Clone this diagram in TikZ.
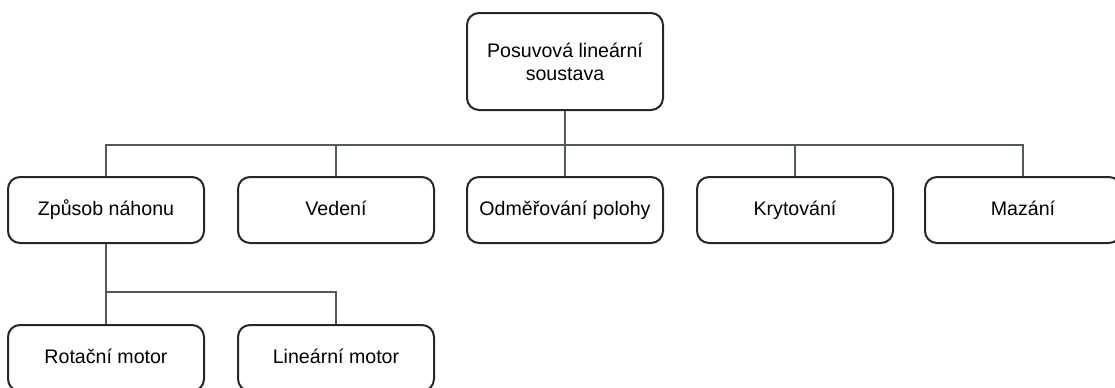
\documentclass[tikz,border=0pt]{standalone}
\usepackage{fontspec}
\setmainfont{Liberation Sans}
\definecolor{boxline}{RGB}{35,40,40}
\definecolor{treeline}{RGB}{80,90,90}

\begin{document}
\begin{tikzpicture}[x=0.5pt,y=-0.5pt,
  part/.style={draw=boxline, line width=1pt, rounded corners=6pt, fill=white,
    minimum width=98pt, minimum height=33pt, inner sep=1pt, align=center,
    font=\fontsize{9.8}{11.5}\selectfont},
  leaf/.style={part, text height=7pt, text depth=2pt},
  link/.style={draw=treeline, line width=1.3pt}]
\useasboundingbox (0,0) rectangle (1115,387);

% Root
\node[part, minimum height=48.5pt] (root) at (565,61.5) {Posuvová lineární\\soustava};

% Main parts
\node[leaf] (drive) at (106,210) {Způsob náhonu};
\node[leaf] (guide) at (336,210) {Vedení};
\node[leaf] (measure) at (565,210) {Odměřování polohy};
\node[leaf] (cover) at (795,210) {Krytování};
\node[leaf] (lube) at (1023,210) {Mazání};

% Drive types
\node[leaf] (rotmotor) at (106,358) {Rotační motor};
\node[leaf] (linmotor) at (336,358) {Lineární motor};

% Connectors
\coordinate (bus) at (565,145);
\coordinate (subbus) at (106,292);
\draw[link] (root) -- (bus);
\foreach \n in {drive,guide,measure,cover,lube}
  \draw[link] (bus) -| (\n.north);
\draw[link] (drive) -- (subbus);
\foreach \n in {rotmotor,linmotor}
  \draw[link] (subbus) -| (\n.north);
\end{tikzpicture}
\end{document}
